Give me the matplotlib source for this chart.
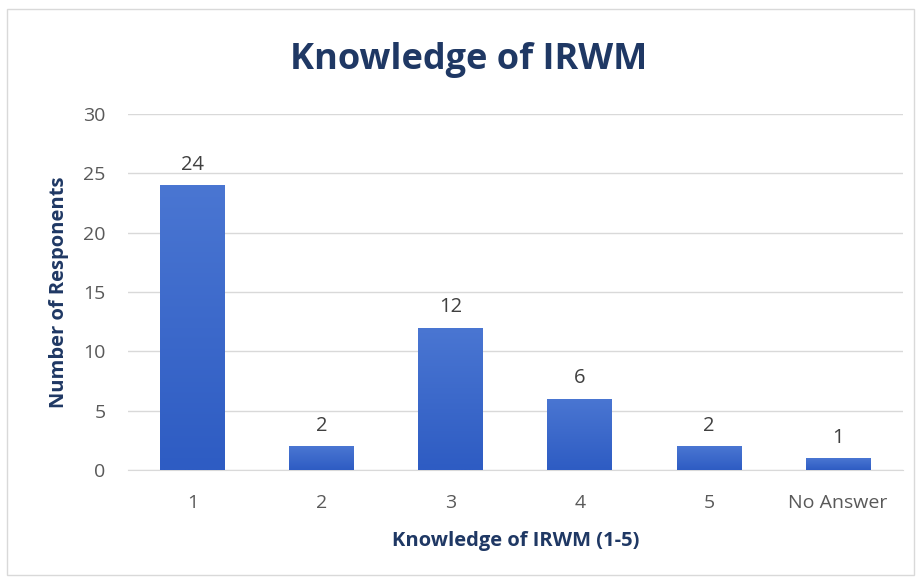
import numpy as np
import matplotlib.pyplot as plt
from matplotlib.patches import Rectangle
from matplotlib.colors import LinearSegmentedColormap

categories = ["1", "2", "3", "4", "5", "No Answer"]
responses = [24, 2, 12, 6, 2, 1]
y_ticks = [0, 5, 10, 15, 20, 25, 30]

BAR_TOP = "#4A76D2"
BAR_BOTTOM = "#2E5CC3"
TEXT_GRAY = "#595959"
TITLE_COLOR = "#1F3864"

plt.rcParams["font.family"] = ["Open Sans", "DejaVu Sans"]

fig = plt.figure(figsize=(9.2, 5.79), dpi=100)
ax = fig.add_axes([0.139, 0.188, 0.842, 0.615])

x = range(len(categories))
bars = ax.bar(x, responses, 0.5, color=BAR_BOTTOM, zorder=3)

# soft vertical gradient inside each bar (lighter at the top)
grad = LinearSegmentedColormap.from_list("bar", [BAR_BOTTOM, BAR_TOP])
for b in bars:
	x0, y0 = b.get_x(), b.get_y()
	w, h = b.get_width(), b.get_height()
	im = ax.imshow(np.linspace(0, 1, 100).reshape(-1, 1), cmap=grad, aspect="auto",
		origin="lower", extent=[x0, x0 + w, y0, y0 + h], zorder=4)
	im.set_clip_path(b)

# value labels above each bar
for b, v in zip(bars, responses):
	ax.text(b.get_x() + b.get_width() / 2, v + 0.9, str(v),
		ha="center", va="bottom", fontsize=14.5, color="#404040", zorder=5)

ax.set_xlim(-0.5, len(categories) - 0.5)
ax.set_ylim(0, 30)
ax.set_yticks(y_ticks)
ax.set_xticks(list(x))
ax.set_xticklabels(categories)
ax.tick_params(axis="both", length=0, labelsize=14, labelcolor=TEXT_GRAY)
ax.tick_params(axis="x", pad=17)
ax.tick_params(axis="y", pad=16)

ax.grid(axis="y", color="#D9D9D9", linewidth=1, zorder=0)
for s in ["top", "right", "left"]:
	ax.spines[s].set_visible(False)
ax.spines["bottom"].set_color("#D9D9D9")

ax.set_ylabel("Number of Responents", fontsize=14.5, fontweight="bold", color=TITLE_COLOR, labelpad=10)
ax.set_xlabel("Knowledge of IRWM (1-5)", fontsize=14.5, fontweight="bold", color=TITLE_COLOR, labelpad=14)

fig.text(0.509, 0.897, "Knowledge of IRWM", ha="center", va="center",
	fontsize=26, fontweight="bold", color=TITLE_COLOR)

# light border round the chart area
fig.patches.append(Rectangle((0.008, 0.007), 0.985, 0.978, transform=fig.transFigure,
	fill=False, edgecolor="#D9D9D9", linewidth=1))

fig.savefig("out.png", dpi=100)
